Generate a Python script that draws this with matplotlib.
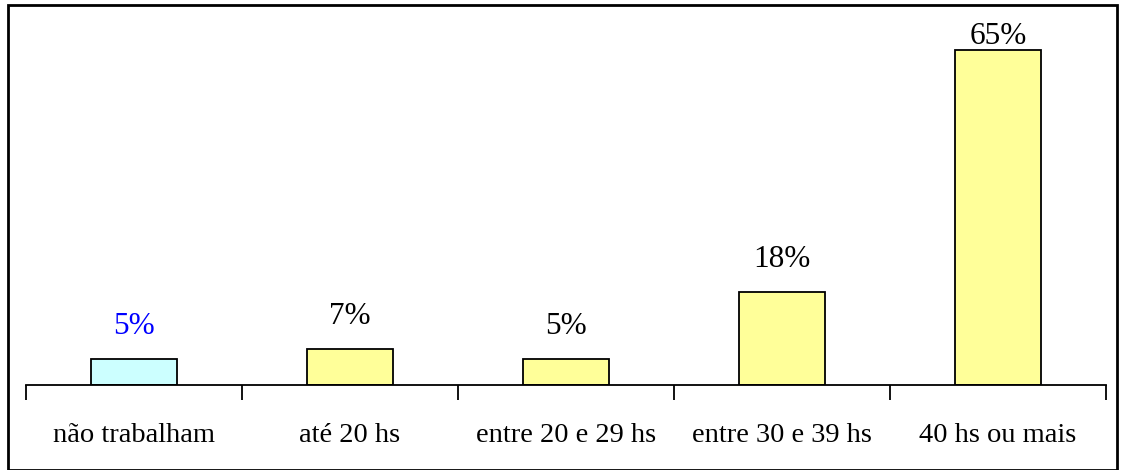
import numpy as np
import matplotlib.pyplot as plt
from matplotlib.patches import Rectangle

categories = ['não trabalham', 'até 20 hs', 'entre 20 e 29 hs', 'entre 30 e 39 hs', '40 hs ou mais']
values = [5, 7, 5, 18, 65]
bar_colors = ['#ccffff', '#ffff99', '#ffff99', '#ffff99', '#ffff99']
label_colors = ['#0000ff', 'black', 'black', 'black', 'black']

plt.rcParams['font.family'] = 'Liberation Serif'

fig = plt.figure(figsize=(11.21, 4.70), dpi=100)
ax = fig.add_axes([26 / 1121, (470 - 385) / 470, 1080 / 1121, 363 / 470])

x = np.arange(len(categories))
ax.bar(x, values, 0.4, color=bar_colors, edgecolor='black', linewidth=1.3)

ymax = 70.5
for xi, v, c in zip(x, values, label_colors):
    ax.text(xi, min(v + 6.4, ymax - 2.9), f'{v}%', ha='center', va='center',
            fontsize=22.5, color=c)

ax.set_xlim(-0.5, len(categories) - 0.5)
ax.set_ylim(0, ymax)
ax.set_xticks(x)
ax.set_xticklabels(categories, fontsize=20.5)
ax.set_xticks(np.arange(len(categories) + 1) - 0.5, minor=True)
ax.tick_params(axis='x', which='major', length=0, pad=27)
ax.tick_params(axis='x', which='minor', length=11, width=1.3, direction='out')
ax.set_yticks([])
for s in ['left', 'top', 'right']:
    ax.spines[s].set_visible(False)
ax.spines['bottom'].set_linewidth(1.3)

# moldura em volta do gráfico
fig.patches.append(Rectangle((8 / 1121, 0), (1117 - 8) / 1121, (470 - 5) / 470,
                             transform=fig.transFigure, fill=False,
                             edgecolor='black', linewidth=2))

fig.savefig('out.png', dpi=100)
